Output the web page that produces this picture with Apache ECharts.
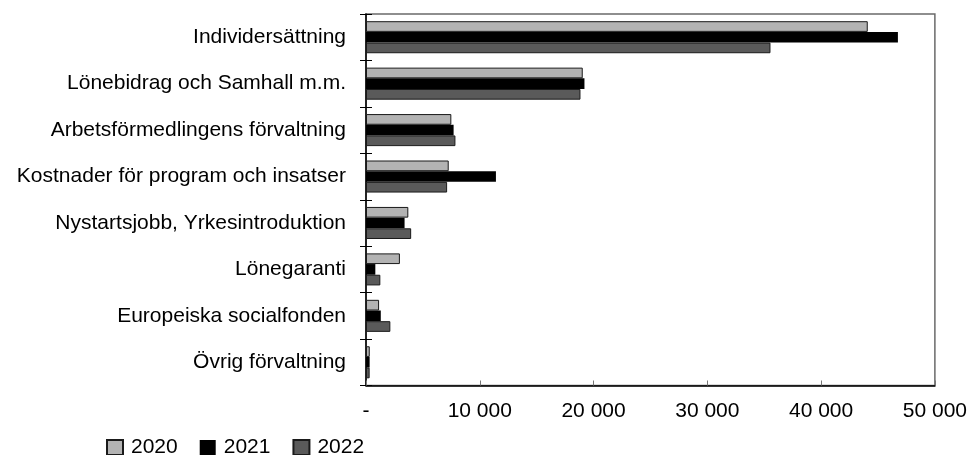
<!DOCTYPE html>
<html>
<head>
<meta charset="utf-8">
<script src="https://cdn.jsdelivr.net/npm/echarts@6/dist/echarts.min.js"></script>
<style>
html,body{margin:0;padding:0;background:#fff;}
#chart{width:970px;height:455px;}
</style>
</head>
<body>
<div id="chart"></div>
<script>
const categories = [
  'Individersättning',
  'Lönebidrag och Samhall m.m.',
  'Arbetsförmedlingens förvaltning',
  'Kostnader för program och insatser',
  'Nystartsjobb, Yrkesintroduktion',
  'Lönegaranti',
  'Europeiska socialfonden',
  'Övrig förvaltning'
];
const seriesNames = ['2020', '2021', '2022'];
const values2020 = [44100, 19050, 7500, 7270, 3720, 2980, 1150, 330];
const values2021 = [46750, 19200, 7700, 11420, 3390, 820, 1300, 320];
const values2022 = [35550, 18850, 7860, 7130, 3970, 1260, 2140, 320];
const xTickLabels = ['-', '10 000', '20 000', '30 000', '40 000', '50 000'];

const FONT = '"Liberation Sans", Arial, sans-serif';
const chart = echarts.init(document.getElementById('chart'), null, {renderer: 'canvas'});
const colors = ['#b3b3b3', '#000000', '#5a5a5a'];
const allValues = [values2020, values2021, values2022];

chart.setOption({
  animation: false,
  textStyle: {fontFamily: FONT},
  grid: {
    left: 366, right: 33, top: 14, bottom: 69.5,
    show: true, borderColor: '#6a6a6a', borderWidth: 1.5
  },
  legend: {
    left: 106, top: 437, padding: 0,
    itemWidth: 16, itemHeight: 15, itemGap: 22,
    icon: 'rect',
    textStyle: {fontSize: 21, color: '#000', fontFamily: FONT, padding: [0, 0, 0, 3]},
    data: seriesNames
  },
  xAxis: {
    type: 'value', min: 0, max: 50000, interval: 10000,
    axisLine: {show: true, lineStyle: {color: '#000', width: 1.5}},
    axisTick: {show: true, inside: true, length: 5, lineStyle: {color: '#777'}},
    splitLine: {show: false},
    axisLabel: {
      fontSize: 21, color: '#000', margin: 15, fontFamily: FONT,
      formatter: function (v) { return xTickLabels[Math.round(v / 10000)]; }
    }
  },
  yAxis: [
    {
      type: 'category', data: categories, inverse: true,
      axisLine: {show: true, lineStyle: {color: '#000', width: 1.5}},
      axisTick: {show: true, length: 6, lineStyle: {color: '#000'}},
      axisLabel: {fontSize: 21, color: '#000', margin: 20, fontFamily: FONT}
    },
    {
      type: 'category', data: categories, inverse: true, position: 'left',
      axisLine: {show: false},
      axisTick: {show: true, inside: true, length: 6, lineStyle: {color: '#000'}},
      axisLabel: {show: false}
    }
  ],
  series: seriesNames.map((name, i) => ({
    name: name,
    type: 'bar',
    yAxisIndex: 0,
    data: allValues[i],
    barGap: '0%',
    barCategoryGap: '31%',
    itemStyle: {
      color: colors[i],
      borderColor: '#1a1a1a',
      borderWidth: i === 1 ? 0 : 1
    }
  }))
});
</script>
</body>
</html>
